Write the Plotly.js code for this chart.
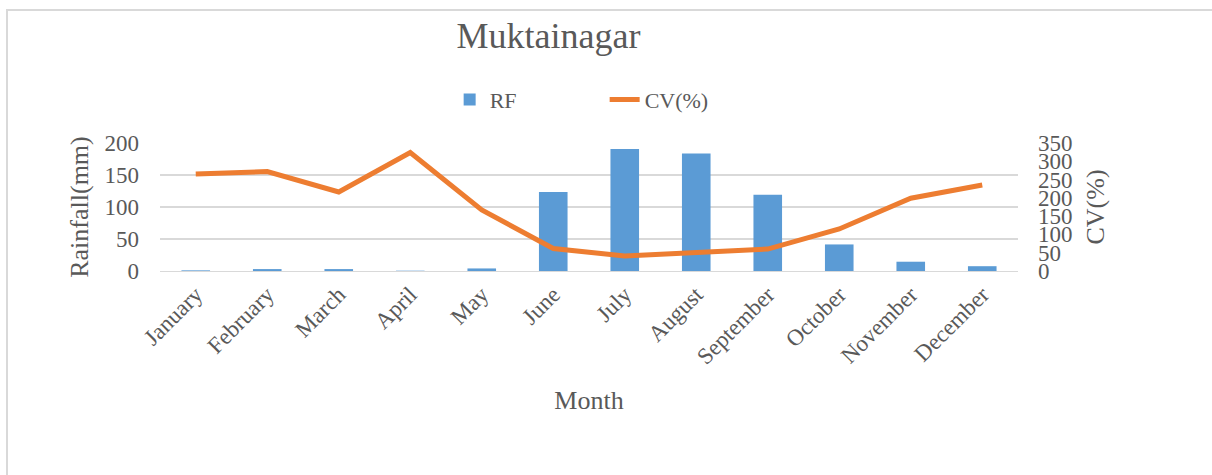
<!DOCTYPE html>
<html>
<head>
<meta charset="utf-8">
<script src="https://cdn.plot.ly/plotly-3.0.1.min.js"></script>
<style>
  html, body { margin: 0; padding: 0; background: #fff; }
  #frame { position: absolute; left: 6px; top: 9px; width: 1206px; height: 466px;
           border-left: 2px solid #d9d9d9; border-top: 2px solid #d9d9d9; }
  #chart { position: absolute; left: 0; top: 0; width: 1212px; height: 475px; }
</style>
</head>
<body>
<div id="frame"></div>
<div id="chart"></div>
<script>
const months = ["January","February","March","April","May","June","July","August","September","October","November","December"];
const rainfall = [1, 3, 3, 0.5, 4, 123.5, 190.5, 183.5, 119, 41.5, 14.5, 7.5];
const cv = [265, 272, 216, 324, 167, 61.5, 41, 52, 60, 115, 199, 235];

const serif = "Liberation Serif, Times New Roman, serif";
const grey = "#595959";

const traces = [
  { type: "bar", name: "RF", x: months, y: rainfall, yaxis: "y",
    marker: { color: "#5B9BD5" }, width: 0.4 },
  { type: "scatter", mode: "lines", name: "CV(%)", x: months, y: cv, yaxis: "y2",
    line: { color: "#ED7D31", width: 5 } }
];

const layout = {
  width: 1212, height: 475,
  paper_bgcolor: "rgba(0,0,0,0)", plot_bgcolor: "rgba(0,0,0,0)",
  margin: { l: 160, r: 194, t: 143, b: 204 },
  font: { family: serif, color: grey, size: 23 },
  title: { text: "Muktainagar", font: { family: serif, size: 36, color: grey },
           x: 0.4526, xref: "container", xanchor: "center",
           y: 0.925, yref: "container", yanchor: "middle" },
  showlegend: true,
  legend: { orientation: "h", x: 0.371, xref: "container", xanchor: "left",
            y: 0.79, yref: "container", yanchor: "middle",
            font: { family: serif, size: 22, color: grey },
            entrywidth: 110, entrywidthmode: "pixels",
            traceorder: "normal" },
  xaxis: { type: "category", range: [-0.5, 11.5], tickangle: -45,
           showline: true, linecolor: "#d9d9d9", linewidth: 1,
           ticks: "", showgrid: false,
           tickfont: { family: serif, size: 23, color: grey },
           title: { text: "Month", font: { family: serif, size: 26, color: grey }, standoff: 22 } },
  yaxis: { range: [0, 200], dtick: 50, showgrid: true, gridcolor: "#d9d9d9", gridwidth: 1.5,
           zeroline: false, ticks: "", ticklabelstandoff: 20,
           tickfont: { family: serif, size: 23, color: grey },
           title: { text: "Rainfall(mm)", font: { family: serif, size: 26, color: grey }, standoff: 8 } },
  yaxis2: { range: [0, 350], dtick: 50, overlaying: "y", side: "right", showgrid: false,
            zeroline: false, ticks: "", ticklabelstandoff: 19,
            tickfont: { family: serif, size: 23, color: grey },
            title: { text: "CV(%)", font: { family: serif, size: 26, color: grey }, standoff: 14 } },
  bargap: 0.6
};

Plotly.newPlot("chart", traces, layout, { displayModeBar: false, staticPlot: true });
</script>
</body>
</html>
